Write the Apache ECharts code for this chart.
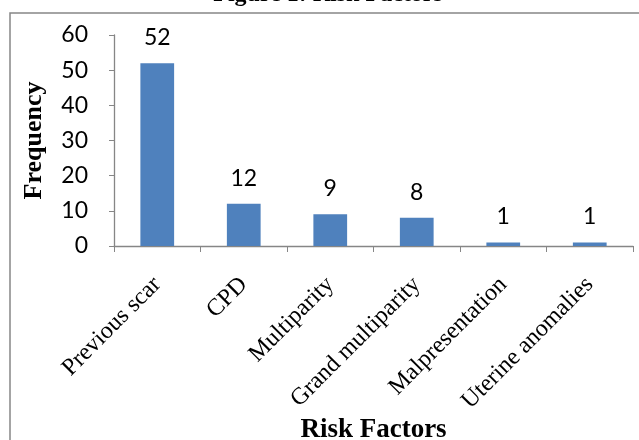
<!DOCTYPE html>
<html>
<head>
<meta charset="utf-8">
<script src="https://cdn.jsdelivr.net/npm/echarts@6/dist/echarts.min.js"></script>
<style>
  html, body { margin: 0; padding: 0; background: #fff; }
  #chart { width: 639px; height: 440px; }
</style>
</head>
<body>
<div id="chart"></div>
<script>
// Risk factor counts
const categories = ['Previous scar', 'CPD', 'Multiparity', 'Grand multiparity', 'Malpresentation', 'Uterine anomalies'];
const frequency = [52, 12, 9, 8, 1, 1];
const yTicks = [0, 10, 20, 30, 40, 50, 60];

const serif = '"Liberation Serif", "Times New Roman", serif';
const sans = 'Lato, "Open Sans", sans-serif';
const axisGrey = '#868686';

const chart = echarts.init(document.getElementById('chart'), null, { renderer: 'canvas' });

chart.setOption({
  animation: false,
  backgroundColor: '#ffffff',
  graphic: [
    {
      type: 'rect',
      shape: { x: 10, y: 13, width: 700, height: 500 },
      style: { fill: 'none', stroke: axisGrey, lineWidth: 1.5 },
      z: 0
    },
    {
      type: 'text',
      x: 328,
      y: 7,
      style: {
        text: 'Figure 1: Risk Factors',
        font: 'bold 24px ' + serif,
        fill: '#000',
        align: 'center',
        verticalAlign: 'bottom'
      }
    }
  ],
  grid: { left: 114, right: 6, top: 35, bottom: 194, containLabel: false, outerBoundsMode: 'none' },
  xAxis: {
    type: 'category',
    data: categories,
    name: 'Risk Factors',
    nameLocation: 'middle',
    nameGap: 158,
    nameTextStyle: { fontFamily: serif, fontWeight: 'bold', fontSize: 27, color: '#000' },
    axisLine: { lineStyle: { color: axisGrey, width: 1.3 } },
    axisTick: { show: true, length: 6, lineStyle: { color: axisGrey } },
    axisLabel: {
      rotate: 45,
      margin: 35,
      fontFamily: serif,
      fontSize: 24,
      color: '#000',
      interval: 0
    }
  },
  yAxis: {
    type: 'value',
    min: yTicks[0],
    max: yTicks[yTicks.length - 1],
    interval: yTicks[1] - yTicks[0],
    name: 'Frequency',
    nameLocation: 'middle',
    nameGap: 67,
    nameTextStyle: { fontFamily: serif, fontWeight: 'bold', fontSize: 26, color: '#000' },
    axisLine: { show: true, lineStyle: { color: axisGrey, width: 1.3 } },
    axisTick: { show: true, length: 5, lineStyle: { color: axisGrey } },
    splitLine: { show: false },
    axisLabel: { margin: 26, fontFamily: sans, fontSize: 23, color: '#000' }
  },
  series: [{
    type: 'bar',
    data: frequency,
    barWidth: '39%',
    itemStyle: { color: '#4F81BD' },
    label: {
      show: true,
      position: 'top',
      distance: 14,
      fontFamily: sans,
      fontSize: 23,
      color: '#000'
    }
  }]
});
</script>
</body>
</html>
